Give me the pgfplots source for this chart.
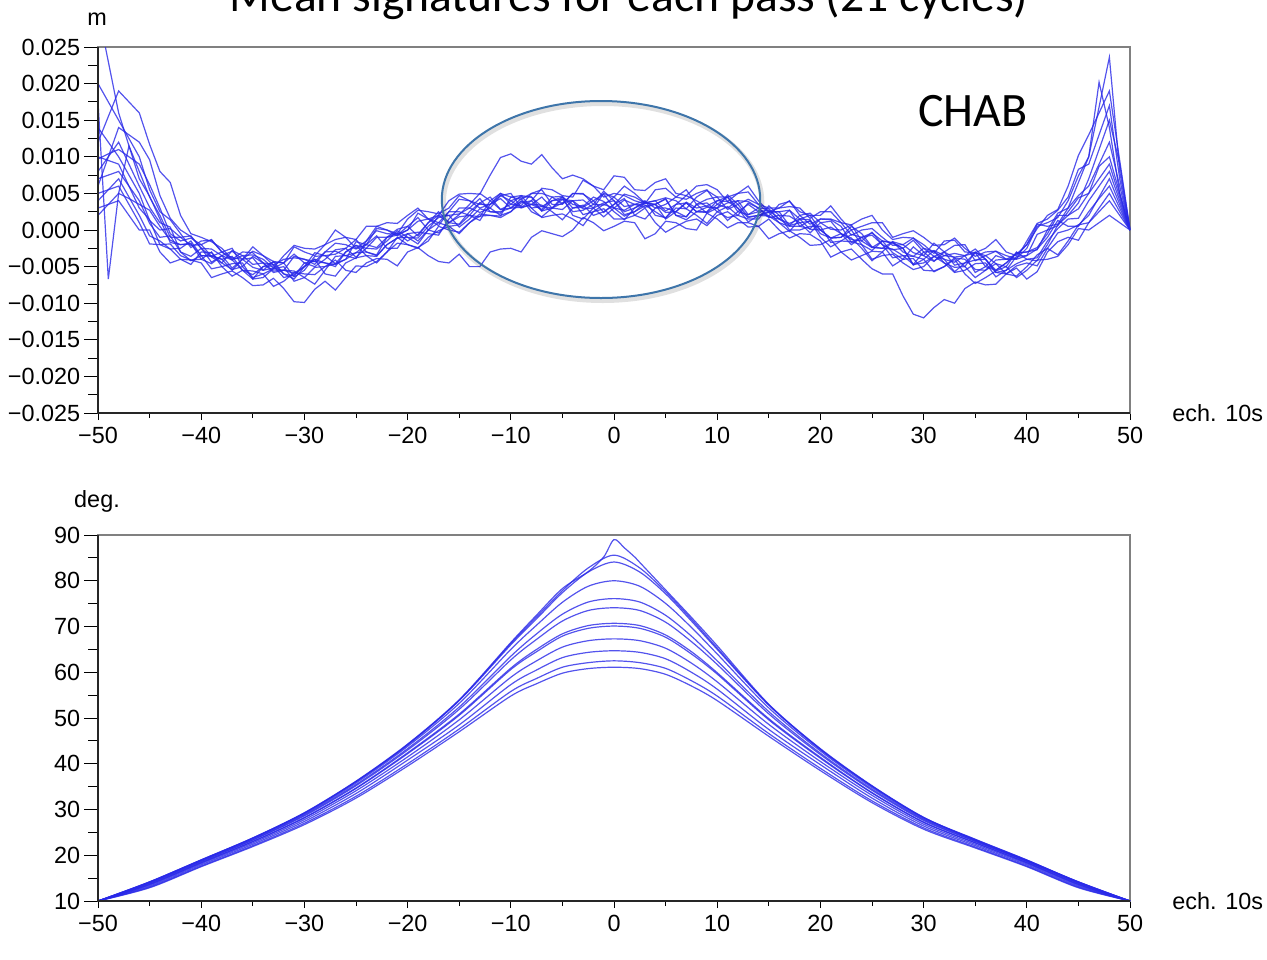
\documentclass[border=0pt]{standalone}
\usepackage{fontspec}
\setmainfont{Liberation Sans}
\newfontfamily\calibri{Carlito}
\usepackage{pgfplots}
\usepackage{pgfplotstable}
\pgfplotsset{compat=1.18}
\definecolor{sigblue}{RGB}{40,40,232}
\definecolor{ellblue}{RGB}{62,117,170}
\pgfplotsset{
 base/.style={
  scale only axis, width=516pt, height=183pt,
  xmin=-50, xmax=50, clip mode=individual,
  tick pos=left, tick align=outside,
  major tick length=3.5pt, minor tick length=2.5pt,
  xtick={-50,-40,...,50},
  xticklabels={−50,−40,−30,−20,−10,0,10,20,30,40,50},
  minor x tick num=1, minor y tick num=1,
  axis line style={draw=black!50, line width=0.6pt},
  every tick/.style={black, line width=0.5pt},
  tick label style={font=\fontsize{11.7}{14}\selectfont, inner sep=0pt},
  xticklabel style={anchor=north, yshift=-3.3pt},
  yticklabel style={anchor=east, xshift=-5.25pt},
 },
 sig/.style={color=sigblue, line width=0.6pt, opacity=0.8, mark=none},
 /pgfplots/table/ser/.style={/pgfplots/table/header=false, /pgfplots/table/row sep=\\, /pgfplots/table/x expr=\coordindex-50, /pgfplots/table/y index=0},
}
\pgfplotstableread{
x c2 c3 c4 c5 c6 c7 c8 c9 c10 c11 c12
-50 10 10 10 10 10 10 10 10 10 10 10
-45 14.17 14.15 14.07 13.94 13.85 13.67 13.63 13.45 13.24 13.04 12.9
-40 18.97 18.95 18.85 18.7 18.6 18.4 18.35 18.15 17.9 17.65 17.5
-35 23.76 23.73 23.6 23.4 23.3 23.03 22.97 22.7 22.4 22.1 21.9
-30 29.25 29.2 29.0 28.8 28.6 28.25 28.17 27.8 27.4 27.0 26.7
-25 36.1 36.1 35.8 35.45 35.2 34.7 34.6 34.1 33.5 32.9 32.5
-20 44.2 44.1 43.8 43.3 43.0 42.4 42.2 41.5 40.8 40.0 39.5
-15 53.9 53.8 53.2 52.4 51.9 50.85 50.6 49.6 48.5 47.6 47.0
-10 66.3 66.0 65.0 63.5 62.7 60.9 60.6 58.9 57.3 55.8 54.8
-7.5 72.1 71.7 70.3 68.4 67.2 65.0 64.5 62.5 60.5 58.65 57.5
-5 77.85 77.4 75.3 72.7 71.2 68.4 67.9 65.5 63.2 61.1 59.8
-2.5 82.8 81.9 78.8 75.35 73.5 70.2 69.6 66.9 64.35 62.1 60.8
0 85.6 84.1 80.0 76.1 74.1 70.7 70.1 67.3 64.7 62.5 61.1
2.5 82.8 81.9 78.8 75.35 73.5 70.2 69.6 66.9 64.35 62.1 60.8
5 77.6 77.15 75.05 72.45 70.95 68.15 67.65 65.25 62.95 60.85 59.55
7.5 71.6 71.2 69.8 67.9 66.7 64.5 64.0 62.0 60.0 58.15 57.0
10 65.3 65.0 64.0 62.5 61.7 59.9 59.6 57.9 56.3 54.8 53.8
15 52.9 52.8 52.2 51.4 50.9 49.85 49.6 48.6 47.5 46.6 46.0
20 43.2 43.1 42.8 42.3 42.0 41.4 41.2 40.5 39.8 39.0 38.5
25 35.1 35.1 34.8 34.45 34.2 33.7 33.6 33.1 32.5 31.9 31.5
30 28.25 28.2 28.0 27.8 27.6 27.25 27.17 26.8 26.4 26.0 25.7
35 23.5 23.45 23.3 23.1 23.0 22.75 22.7 22.4 22.1 21.8 21.6
40 18.97 18.95 18.85 18.7 18.6 18.4 18.35 18.15 17.9 17.65 17.5
45 14.17 14.15 14.07 13.94 13.85 13.67 13.63 13.45 13.24 13.04 12.9
50 10 10 10 10 10 10 10 10 10 10 10
}\degtab
\begin{document}
\begin{tikzpicture}
\begin{axis}[base, at={(49pt,-206.5pt)}, anchor=south west,
  ymin=-25, ymax=25, ytick={-25,-20,...,25},
  yticklabels={−0.025,−0.020,−0.015,−0.010,−0.005,0.000,0.005,0.010,0.015,0.020,0.025}]
\addplot[sig] table[ser]{30\\23\\16\\11.5\\7\\4.6\\1.5\\-1.7\\-2\\-1.9\\-3.5\\-3.6\\-3\\-2.5\\-5\\-6.5\\-6\\-5.3\\-5\\-7.0\\-6.5\\-5.1\\-5\\-4.6\\-3\\-2.1\\-3.5\\-3.6\\-2\\-1.1\\-1\\-1.9\\0\\1.9\\2\\2.2\\3\\4.3\\2.5\\2.3\\4\\4.5\\4.5\\2.6\\3\\4.2\\4\\2.9\\3\\5.0\\4.5\\3.2\\3.5\\3.4\\2.5\\1.6\\3.5\\4.7\\4\\3.2\\3\\4.8\\3.5\\1.8\\2\\2.5\\2.5\\0.6\\1\\1.2\\0\\-1.1\\-1\\0.5\\-0.5\\-2.3\\-2.5\\-2.6\\-3.5\\-4.7\\-3\\-2.9\\-4.5\\-5.1\\-5\\-3.0\\-4\\-5.8\\-5.5\\-4.6\\-4\\-4.2\\-2\\0.7\\2\\2.9\\5\\8.7\\10\\5\\0\\};
\addplot[sig] coordinates {(-50,17.5)(-49,-6.7)(-48,5)(-47,11.5)(-46,8)(-45,4.5)(-44,2)(-43,-1.0)(-42,-1)(-41,-0.8)(-40,-2.5)(-39,-3.7)(-38,-4.5)(-37,-2.8)(-36,-3.5)(-35,-4.7)(-34,-4.5)(-33,-4.7)(-32,-6)(-31,-6.7)(-30,-5)(-29,-4.0)(-28,-4.5)(-27,-4.7)(-26,-4)(-25,-1.6)(-24,-2)(-23,-2.4)(-22,-1)(-21,0.1)(-20,0.5)(-19,-0.8)(-18,1)(-17,2.0)(-16,1)(-15,2.1)(-14,3.5)(-13,5.0)(-12,4)(-11,2.8)(-10,3)(-9,3.9)(-8,3.5)(-7,2.8)(-6,4.5)(-5,4.6)(-4,3)(-3,3.1)(-2,4)(-1,4.9)(0,3)(1,1.9)(2,2.5)(3,3.3)(4,3.5)(5,1.5)(6,2.5)(7,3.8)(8,3)(9,3.3)(10,4)(11,4.5)(12,2.5)(13,2.1)(14,3)(15,2.9)(16,1.5)(17,0.6)(18,2)(19,2.3)(20,1)(21,0.1)(22,0)(23,0.7)(24,-1.5)(25,-2.4)(26,-1.5)(27,-1.7)(28,-2.5)(29,-4.8)(30,-4)(31,-2.8)(32,-3.5)(33,-3.7)(34,-3.5)(35,-3.1)(36,-5)(37,-5.5)(38,-4.5)(39,-3.2)(40,-3)(41,-2.7)(42,0)(43,2.3)(44,3)(45,6.5)(46,10)(47,20.2)(48,14)(49,5)(50,0)};
\addplot[sig] table[ser]{12\\15.5\\19\\17.5\\16\\11.7\\8\\6.5\\2\\-0.5\\-1\\-1.6\\-2.5\\-4.0\\-3\\-3.1\\-4.5\\-5.6\\-5.5\\-3.6\\-4\\-4.3\\-3\\-2.9\\-3.5\\-3.9\\-1.5\\-0.1\\-0.5\\-0.6\\0\\2.3\\1.5\\1.0\\2.5\\2.5\\2\\1.8\\4\\5.0\\4.5\\4.2\\5\\5.5\\3.5\\3.5\\5\\4.9\\4\\2.4\\3.5\\4.9\\4.5\\3.7\\3.5\\4.3\\2\\1.8\\3.5\\4.2\\4.5\\2.8\\3.5\\4.2\\3.5\\2.4\\2.5\\2.7\\0.5\\0.2\\1.5\\1.4\\0.5\\-1.7\\-1\\-0.4\\-1.5\\-3.1\\-4\\-2.3\\-3.5\\-4.3\\-3\\-3.8\\-5\\-6.5\\-5.5\\-4.1\\-4\\-3.9\\-2.5\\0.5\\1\\1.7\\4\\7.4\\10\\16.8\\23.6\\8\\0\\};
\addplot[sig] table[ser]{9.7\\10.4\\11\\10\\9\\6.2\\3\\-0.5\\-1.5\\-1.1\\-2\\-3.6\\-4\\-3.6\\-5.5\\-6.1\\-5\\-4.4\\-4.5\\-6.4\\-5.5\\-3.6\\-3.5\\-3.3\\-2.5\\-1.3\\-3\\-3.5\\-2\\-1.1\\-0.5\\-1.5\\0\\1.0\\0.5\\0.7\\2\\3.7\\3\\2.0\\2.5\\3.7\\4\\2.6\\4\\4.2\\2.5\\2.7\\3.5\\5.3\\4\\2.5\\3\\3.7\\4\\2.6\\3.5\\3.7\\2.5\\2.4\\3.5\\4.5\\3\\1.7\\2\\1.9\\1\\-0.2\\1.5\\1.4\\-0.5\\-1.1\\-1\\0.0\\-2\\-2.8\\-1.5\\-1.8\\-2.5\\-4.7\\-4.5\\-3.6\\-4\\-4.4\\-3.5\\-2.6\\-4\\-5.8\\-6\\-4.9\\-4.5\\-4.9\\-2.5\\-0.4\\0\\0.7\\2\\4.5\\7\\3.5\\0\\};
\addplot[sig] table[ser]{7\\7.5\\8\\6\\4\\0.9\\-1\\-0.8\\-3\\-3.6\\-2.5\\-2.6\\-3.5\\-5.2\\-4\\-2.9\\-3.5\\-4.3\\-4.5\\-2.3\\-3\\-3.5\\-2\\-1.3\\-1\\-2.5\\-1.5\\0.5\\1\\0.9\\2\\3.0\\1.5\\2.0\\4\\4.9\\5\\4.9\\7.5\\9.9\\10.4\\9.4\\9\\10.3\\8.5\\7.0\\7.5\\7.0\\6\\5.5\\7.4\\7.2\\5.5\\5.4\\6.5\\7.0\\5\\4.7\\6\\6.2\\5.5\\3.9\\5\\5.2\\3.5\\3.0\\3\\4.0\\2\\0.8\\1.5\\1.5\\1\\-0.7\\0\\0.2\\-1\\-2.1\\-2\\-1.1\\-2.5\\-3.6\\-3\\-2.1\\-2\\-4.2\\-3.5\\-2.9\\-4\\-3.3\\-2\\0.8\\0.5\\0.8\\3\\4.7\\6\\9\\12\\6\\0\\};
\addplot[sig] table[ser]{5\\5.5\\6\\3.5\\1\\-1.9\\-2\\-1.9\\-3.5\\-4.1\\-4\\-3.0\\-5\\-6.3\\-5.5\\-5.6\\-6\\-7.7\\-7\\-5.8\\-6\\-6.1\\-5\\-4.1\\-5.5\\-5.8\\-4.5\\-3.9\\-4\\-4.9\\-3\\-2.4\\-3.5\\-4.3\\-4.5\\-3.3\\-5\\-5.0\\-3\\-2.6\\-2.5\\-3.0\\-1\\-0.1\\-0.5\\-0.9\\0\\1.7\\1\\-0.1\\0.5\\1.2\\1\\-1.2\\-0.5\\1.2\\1\\0.2\\0\\2.3\\1.5\\0.3\\1\\1.0\\0.5\\-1.2\\-0.5\\-0.1\\-1\\-2.1\\-2\\-1.3\\-3\\-4.1\\-3.5\\-2.9\\-3\\-4.9\\-4\\-3.9\\-5.5\\-5.6\\-5\\-4.0\\-6\\-7.3\\-6.5\\-5.6\\-5\\-6.5\\-5.5\\-4.1\\-4\\-3.6\\-2\\0.2\\0\\1\\2\\1\\0\\};
\addplot[sig] table[ser]{3\\3.5\\4\\2\\0\\0.0\\-3\\-4.5\\-4\\-4.1\\-4.5\\-6.5\\-6\\-5.6\\-6.5\\-7.6\\-7.5\\-6.6\\-8\\-9.8\\-9.9\\-8.1\\-7\\-8.2\\-6.5\\-4.9\\-5\\-4.3\\-3\\-1.0\\-2\\-2.5\\-1\\-0.1\\0.5\\-0.5\\1\\2.2\\2\\1.7\\2.5\\4.0\\3\\1.7\\2\\2.2\\1.5\\0.6\\2.5\\2.9\\1.5\\1.5\\2\\3.0\\1\\-0.3\\0.5\\1.2\\1.5\\0.6\\2\\2.5\\1.5\\0.4\\0.5\\1.5\\0\\-1.1\\-0.5\\-0.6\\-1.5\\-3.7\\-3\\-2.6\\-4\\-5.3\\-6\\-6.0\\-9\\-11.5\\-12\\-10.6\\-9.5\\-10.0\\-8\\-7.1\\-7.5\\-7.4\\-6\\-5.2\\-6.7\\-5.7\\-3\\-1.6\\-1\\-1.4\\1\\2.5\\4\\2\\0\\};
\addplot[sig] table[ser]{14\\12\\10\\7.5\\5\\1.3\\0\\0.2\\-1\\-2.1\\-2\\-1.3\\-3\\-4.1\\-3.5\\-3.4\\-4\\-5.2\\-3.5\\-2.1\\-2.5\\-2.6\\-2\\0.0\\-1\\-1.3\\0.5\\0.5\\0\\-0.5\\1.5\\2.7\\2.5\\2.2\\3\\4.7\\4\\3.0\\3.5\\4.7\\5\\3.1\\4\\5.7\\5.5\\4.7\\4.5\\6.8\\6\\4.5\\5\\4.7\\4\\3.6\\5.5\\5.7\\4.5\\4.2\\5\\5.5\\3.5\\3.0\\4\\3.9\\3\\1.9\\3.5\\3.9\\2.5\\2.0\\2\\3.3\\1.5\\0.0\\0.5\\1.0\\1\\-1.0\\-0.5\\-0.1\\-1\\-2.1\\-2\\-1.1\\-2.5\\-3.6\\-3\\-2.9\\-3.5\\-3.9\\-1.5\\0.9\\1.5\\2.7\\4.5\\8.3\\9\\13\\17\\7\\0\\};
\addplot[sig] table[ser]{6\\10\\14\\13\\12\\9.6\\4.7\\1.6\\0\\-0.9\\-2.5\\-4.4\\-3.5\\-2.9\\-4\\-5.1\\-5.5\\-4.3\\-6\\-6.3\\-4.5\\-4.3\\-4.5\\-5.0\\-3\\-2.1\\-2.5\\-2.6\\-1.5\\-0.1\\-1\\-1.1\\0.5\\1.7\\2\\0.4\\1.5\\2.9\\2.5\\2.5\\3\\4.3\\2.5\\1.8\\3\\3.7\\4\\2.1\\2.5\\3.5\\3\\2.7\\3.5\\4.0\\2\\1.7\\3\\2.9\\2\\0.9\\2.5\\3.2\\2\\1.5\\1.5\\3.3\\2\\0.0\\0\\0.5\\0.5\\-1.7\\-1.5\\-0.6\\-1\\-2.4\\-2.5\\-1.6\\-3\\-3.6\\-2.5\\-2.9\\-4\\-5.7\\-4.5\\-3.1\\-3.5\\-4.6\\-5\\-3.0\\-4\\-3.8\\-1.5\\0.2\\1.5\\1.6\\4\\6\\8\\4\\0\\};
\addplot[sig] table[ser]{10\\9.5\\9\\6\\3\\1.4\\-2\\-2.6\\-2.5\\-1.5\\-3.5\\-5.3\\-5\\-4.6\\-4.5\\-6.7\\-6.5\\-5.3\\-5.5\\-5.9\\-5\\-3.1\\-3.5\\-4.6\\-4\\-3.1\\-3\\-3.4\\-1\\-0.4\\-1.5\\-0.6\\1\\2.5\\1\\0.8\\2.5\\3.7\\4.5\\2.8\\3.5\\4.7\\4.5\\3.2\\3\\4.5\\3.5\\3.2\\4.5\\3.9\\2.5\\1.4\\3\\3.9\\3\\3.5\\4.5\\5.5\\3.5\\2.3\\3\\3.7\\4\\2.1\\2.5\\2.7\\1.5\\0.9\\1.5\\2.0\\0\\-1.1\\-0.5\\-1.1\\-2.5\\-4.2\\-3\\-1.6\\-2\\-3.1\\-3.5\\-1.8\\-3\\-4.8\\-4.5\\-4.1\\-4\\-5.5\\-4.5\\-3.1\\-3\\-2.4\\-0.5\\2.0\\2\\3.7\\7\\11\\15\\9\\0\\};
\addplot[sig] table[ser]{4\\5.5\\7\\4.5\\2\\-0.8\\-1.5\\-2.6\\-4\\-4.7\\-3\\-3.1\\-4.5\\-5.4\\-5\\-3.6\\-4.5\\-5.8\\-5.5\\-5.6\\-6.5\\-7.4\\-5.5\\-3.6\\-3.5\\-3.1\\-2\\-0.8\\-2.5\\-2.5\\-0.5\\-0.3\\-0.5\\-0.7\\1.5\\3.0\\3\\2.4\\3\\4.7\\4\\3.0\\3.5\\3.4\\2.5\\1.4\\3\\3.4\\2\\2.5\\3.5\\4.3\\2\\1.5\\3\\3.0\\2.5\\1.8\\3.5\\3.7\\2.5\\1.7\\2\\3.7\\3\\1.7\\2\\1.9\\1\\-0.4\\1\\1.2\\-0.5\\-1.3\\-1.5\\-0.3\\-2\\-3.8\\-3.5\\-3.6\\-4\\-5.7\\-5\\-3.8\\-4\\-5.4\\-5.5\\-4.6\\-6\\-6.3\\-5\\-3.4\\-2.5\\-3.4\\-1.5\\0.7\\1\\3\\5\\2.5\\0\\};
\addplot[sig] table[ser]{2\\3.5\\5\\4.3\\3.5\\2.7\\0.5\\-1.4\\-2\\-1.8\\-4\\-4.6\\-3.5\\-4.1\\-5.5\\-6.7\\-5\\-4.9\\-6.5\\-6.1\\-5\\-4.0\\-6\\-6.3\\-4.5\\-3.8\\-3.5\\-4.5\\-3\\-1.8\\-2\\-2.4\\-1.5\\0.5\\0\\-0.3\\1\\1.9\\2\\1.9\\4.5\\4.7\\3\\3.2\\4\\4.5\\2\\1.5\\3\\3.7\\4\\2.1\\2.5\\3.7\\3.5\\2.4\\2.5\\3.7\\2.5\\2.5\\4\\3.9\\3\\1.1\\2\\2.4\\1\\0.5\\0.5\\1.3\\-1\\-2.3\\-1.5\\-1.6\\-2\\-4.0\\-3.5\\-3.3\\-4.5\\-5.4\\-5\\-3.6\\-4.5\\-5.8\\-5.5\\-4.6\\-4.5\\-6.4\\-5.5\\-3.6\\-3.5\\-2.6\\-1\\1.3\\0.5\\0.5\\2.5\\4.3\\6\\3\\0\\};
\addplot[sig] table[ser]{20\\17.5\\15\\12.5\\10\\5.5\\2.5\\1.4\\-0.5\\-2.4\\-1.5\\-1.4\\-3\\-3.8\\-4\\-2.3\\-3.5\\-4.8\\-4\\-3.8\\-4\\-4.7\\-3\\-1.8\\-2\\-2.6\\-2\\0.2\\0\\-0.8\\0\\1.2\\1.5\\0.6\\2.5\\4.2\\4\\3.5\\3.5\\5.0\\3.5\\3.3\\5\\5.0\\4.5\\3.6\\5\\5.0\\3.5\\3.4\\4.5\\6.0\\5\\3.7\\4\\4.4\\4\\2.9\\4.5\\5.4\\4.5\\4.5\\5\\6.0\\4\\2.5\\3\\3.2\\3\\1.6\\2.5\\2.5\\1\\0.7\\1.5\\2.0\\0\\-1.3\\-1\\-1.1\\-2\\-3.2\\-1.5\\-1.4\\-3\\-3.1\\-2.5\\-1.3\\-3\\-3.5\\-2\\0.2\\2\\2.8\\6\\10.2\\13\\16\\19\\9.5\\0\\};
\addplot[sig] table[ser]{8\\10\\12\\9\\6\\3.1\\1\\0.4\\-3\\-4.2\\-3.5\\-3.5\\-4\\-5.5\\-4\\-3.8\\-5.5\\-5.2\\-4.5\\-3.3\\-4.5\\-5.0\\-4\\-2.7\\-2.5\\-3.7\\-2.5\\-1.0\\-1\\-0.7\\0.5\\1.7\\0\\-0.4\\1\\1.8\\2\\1.3\\3.5\\4.3\\3\\3.1\\3.5\\4.5\\3\\2.8\\4\\4.1\\3\\1.8\\3\\4.1\\3.5\\3.1\\3.5\\4.2\\2\\1.4\\2.5\\3.1\\3\\1.3\\2.5\\3.5\\2.5\\1.8\\1.5\\2.7\\1.5\\0.1\\0\\0.4\\-0.5\\-2.0\\-1\\-0.7\\-2\\-2.7\\-2.5\\-1.4\\-3\\-4.2\\-3.5\\-3.2\\-3.5\\-5.8\\-5\\-3.5\\-4\\-4.0\\-3.5\\-0.6\\0\\0.6\\2.5\\4.4\\5\\7\\9\\4.5\\0\\};
\pgfplotsinvokeforeach{-25,-20,-15,-10,-5,0,5,10,15,20,25}{\draw[black, line width=0.5pt] (axis cs:-50,#1) -- ([xshift=-7pt]axis cs:-50,#1);}
\pgfplotsinvokeforeach{-22.5,-17.5,-12.5,-7.5,-2.5,2.5,7.5,12.5,17.5,22.5}{\draw[black, line width=0.5pt] (axis cs:-50,#1) -- ([xshift=-5pt]axis cs:-50,#1);}
\draw[black!85, line width=0.6pt] (rel axis cs:0,1) -- (rel axis cs:0,0) -- (rel axis cs:1,0);
\end{axis}
\begin{axis}[base, at={(49pt,-450.5pt)}, anchor=south west,
  ymin=10, ymax=90, ytick={10,20,...,90},
  yticklabels={10,20,30,40,50,60,70,80,90}]
\addplot[sig, smooth] coordinates {(-50,10)(-45,14.2)(-40,19.0)(-35,23.8)(-30,29.3)(-25,36.2)(-20,44.3)(-15,54.0)(-10,66.5)(-7.5,72.5)(-5,78.3)(-2.5,82.0)(-1,85.2)(0,89.0)(1,87.2)(2,85.2)(2.5,84.0)(5,78.0)(7.5,72.0)(10,65.8)(15,53.0)(20,43.3)(25,35.2)(30,28.3)(35,23.3)(40,18.8)(45,14.2)(50,10)};
\foreach \c in {c2,c3,c4,c5,c6,c7,c8,c9,c10,c11,c12}{
  \addplot[sig, smooth] table[x=x, y=\c]{\degtab};
}
\pgfplotsinvokeforeach{10,20,30,40,50,60,70,80,90}{\draw[black, line width=0.5pt] (axis cs:-50,#1) -- ([xshift=-7pt]axis cs:-50,#1);}
\pgfplotsinvokeforeach{15,25,35,45,55,65,75,85}{\draw[black, line width=0.5pt] (axis cs:-50,#1) -- ([xshift=-5pt]axis cs:-50,#1);}
\draw[black!85, line width=0.6pt] (rel axis cs:0,1) -- (rel axis cs:0,0) -- (rel axis cs:1,0);
\end{axis}
\node[anchor=base, font=\fontsize{11.7}{14}\selectfont] at (48.5pt,-12.5pt) {m};
\node[anchor=base, font=\fontsize{11.7}{14}\selectfont] at (48.5pt,-253.5pt) {deg.};
\node[anchor=base west, inner sep=0pt, font=\fontsize{11.7}{14}\selectfont] at (586pt,-210.5pt) {ech. 10s};
\node[anchor=base west, inner sep=0pt, font=\fontsize{11.7}{14}\selectfont] at (586pt,-454.5pt) {ech. 10s};
\node[anchor=base, inner sep=0pt, font=\calibri\fontsize{23.8}{28}\selectfont] at (314.5pt,-5.9pt) {Mean signatures for each pass (21 cycles)};
\node[anchor=base west, inner sep=0pt, font=\calibri\fontsize{24}{28}\selectfont] at (459pt,-63.4pt) {CHAB};
\draw[black, opacity=0.12, line width=2.5pt] (301.3pt,-101pt) ellipse [x radius=79.6pt, y radius=49.25pt];
\draw[ellblue, line width=1pt] (300.5pt,-99.75pt) ellipse [x radius=79.6pt, y radius=49.25pt];
\pgfresetboundingbox
\useasboundingbox (0pt,0pt) rectangle (633.5pt,-479.5pt);
\end{tikzpicture}
\end{document}
